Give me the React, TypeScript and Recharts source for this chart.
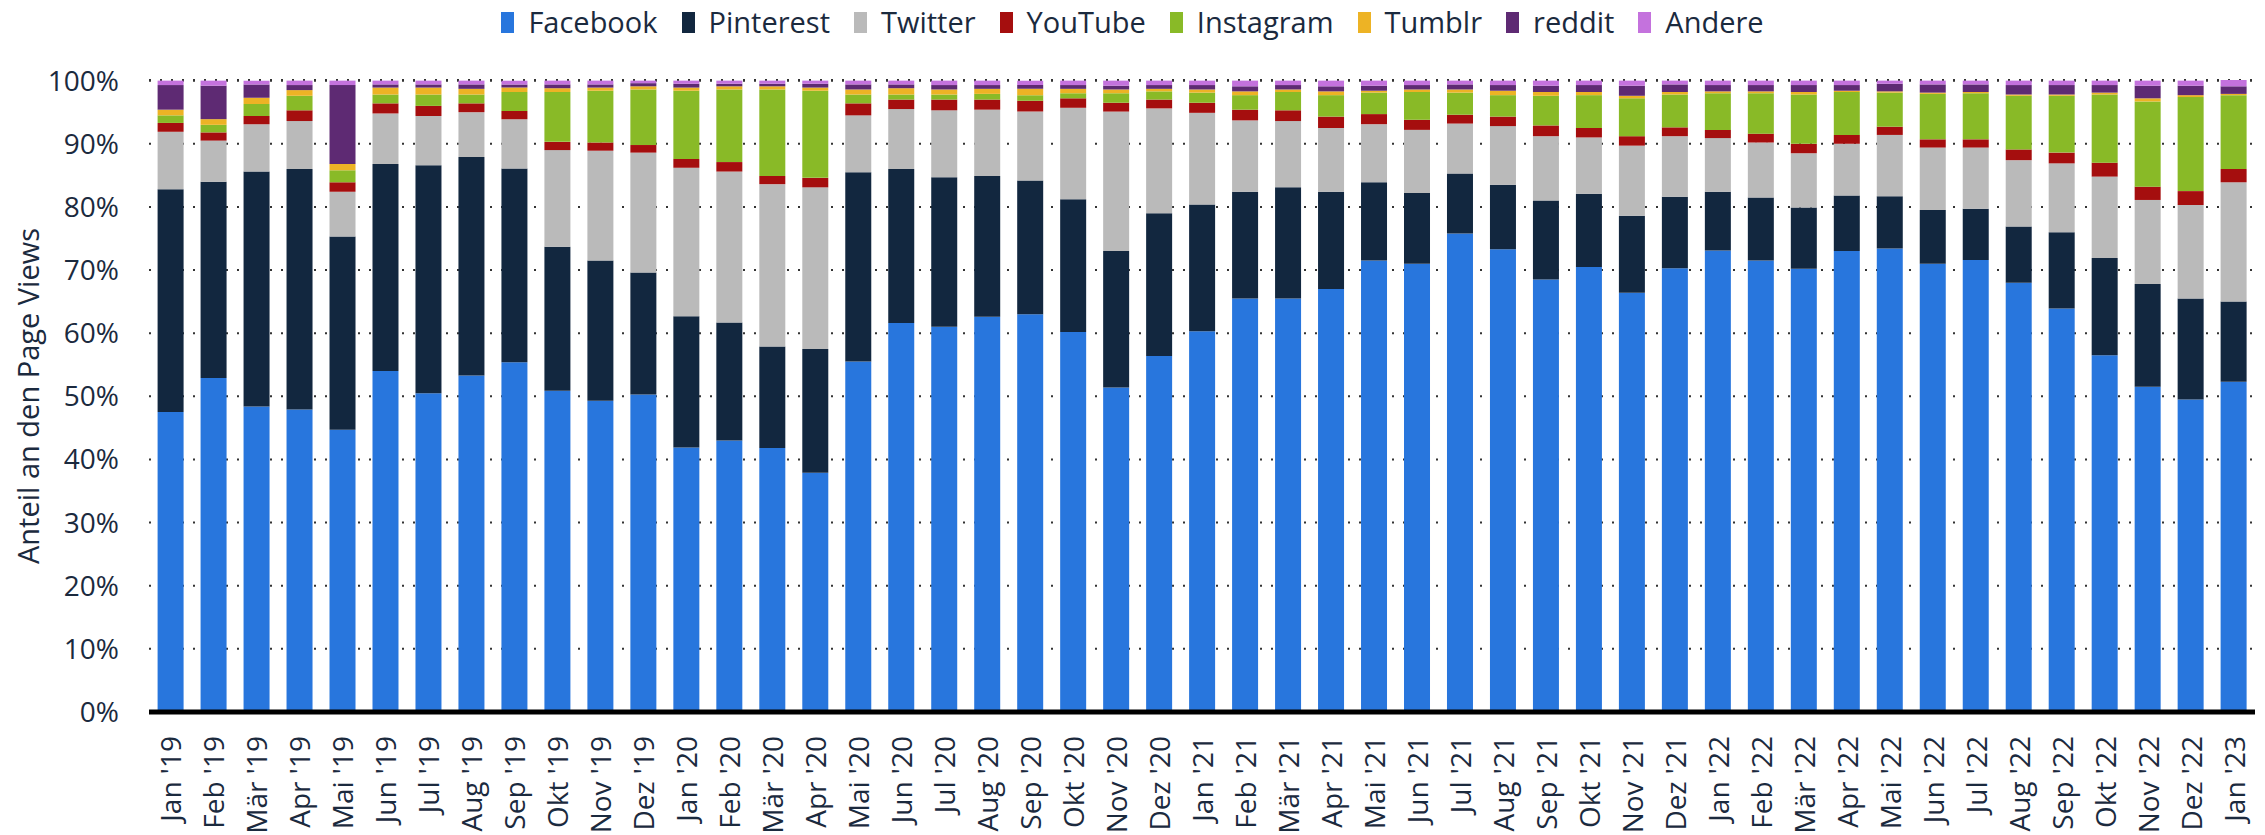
import React from 'react'
import { Bar, BarChart, CartesianGrid, Legend, XAxis, YAxis } from 'recharts'

const months = [
  "Jan '19", "Feb '19", "Mär '19", "Apr '19", "Mai '19", "Jun '19", "Jul '19", "Aug '19", "Sep '19", "Okt '19", "Nov '19", "Dez '19",
  "Jan '20", "Feb '20", "Mär '20", "Apr '20", "Mai '20", "Jun '20", "Jul '20", "Aug '20", "Sep '20", "Okt '20", "Nov '20", "Dez '20",
  "Jan '21", "Feb '21", "Mär '21", "Apr '21", "Mai '21", "Jun '21", "Jul '21", "Aug '21", "Sep '21", "Okt '21", "Nov '21", "Dez '21",
  "Jan '22", "Feb '22", "Mär '22", "Apr '22", "Mai '22", "Jun '22", "Jul '22", "Aug '22", "Sep '22", "Okt '22", "Nov '22", "Dez '22",
  "Jan '23",
]

const facebook = [
  47.5, 52.9, 48.4, 47.9, 44.7, 54.0, 50.5, 53.3, 55.4, 50.9, 49.3, 50.3,
  41.9, 43.0, 41.8, 37.9, 55.5, 61.6, 61.0, 62.6, 63.0, 60.2, 51.4, 56.4,
  60.3, 65.5, 65.5, 67.0, 71.5, 71.0, 75.8, 73.3, 68.5, 70.5, 66.4, 70.3,
  73.1, 71.5, 70.2, 73.0, 73.4, 71.0, 71.6, 68.0, 63.9, 56.5, 51.5, 49.5,
  52.3,
]
const pinterest = [
  35.3, 31.1, 37.2, 38.1, 30.6, 32.8, 36.1, 34.6, 30.7, 22.8, 22.2, 19.3,
  20.8, 18.7, 16.1, 19.6, 30.0, 24.4, 23.7, 22.3, 21.2, 21.0, 21.6, 22.6,
  20.1, 16.9, 17.6, 15.4, 12.4, 11.2, 9.5, 10.2, 12.5, 11.6, 12.2, 11.3,
  9.3, 10.0, 9.7, 8.8, 8.3, 8.5, 8.1, 8.9, 12.1, 15.4, 16.3, 16.0,
  12.7,
]
const twitter = [
  9.1, 6.5, 7.5, 7.6, 7.1, 8.0, 7.8, 7.1, 7.8, 15.3, 17.4, 19.0,
  23.5, 23.9, 25.7, 25.6, 9.0, 9.5, 10.6, 10.5, 10.9, 14.5, 22.1, 16.6,
  14.5, 11.3, 10.5, 10.1, 9.2, 10.0, 7.9, 9.3, 10.2, 8.9, 11.1, 9.6,
  8.5, 8.7, 8.6, 8.2, 9.7, 9.9, 9.7, 10.5, 10.9, 12.9, 13.3, 14.8,
  18.9,
]
const youtube = [
  1.4, 1.3, 1.3, 1.7, 1.5, 1.6, 1.6, 1.4, 1.3, 1.3, 1.3, 1.2,
  1.4, 1.5, 1.3, 1.5, 1.9, 1.5, 1.7, 1.6, 1.7, 1.5, 1.4, 1.4,
  1.6, 1.7, 1.7, 1.8, 1.6, 1.6, 1.4, 1.5, 1.7, 1.5, 1.5, 1.4,
  1.3, 1.4, 1.5, 1.4, 1.3, 1.3, 1.3, 1.7, 1.7, 2.2, 2.1, 2.2,
  2.1,
]
const instagram = [
  1.2, 1.2, 1.9, 2.3, 1.9, 1.4, 1.8, 1.4, 3.0, 7.9, 8.2, 8.8,
  10.8, 11.5, 13.7, 13.8, 1.4, 0.8, 0.8, 0.9, 0.9, 0.8, 1.5, 1.3,
  1.6, 2.3, 2.9, 3.4, 3.4, 4.4, 3.5, 3.4, 4.7, 5.2, 6.0, 5.2,
  5.8, 6.4, 7.8, 6.8, 5.4, 7.2, 7.3, 8.5, 9.0, 10.8, 13.5, 14.9,
  11.7,
]
const tumblr = [
  0.9, 0.9, 1.0, 0.9, 1.0, 1.1, 1.1, 0.9, 0.7, 0.6, 0.5, 0.5,
  0.5, 0.5, 0.5, 0.5, 0.8, 1.0, 0.8, 0.8, 1.0, 0.7, 0.6, 0.4,
  0.5, 0.6, 0.4, 0.6, 0.3, 0.4, 0.5, 0.7, 0.6, 0.5, 0.4, 0.4,
  0.3, 0.3, 0.4, 0.2, 0.2, 0.2, 0.2, 0.2, 0.2, 0.3, 0.5, 0.3,
  0.2,
]
const reddit = [
  3.9, 5.3, 2.1, 0.8, 12.5, 0.5, 0.5, 0.7, 0.5, 0.6, 0.5, 0.5,
  0.6, 0.4, 0.4, 0.6, 0.8, 0.6, 0.7, 0.6, 0.6, 0.6, 0.6, 0.6,
  0.7, 0.8, 0.7, 0.8, 0.8, 0.7, 0.8, 0.9, 1.0, 1.1, 1.6, 1.2,
  1.0, 1.0, 1.1, 0.9, 1.2, 1.3, 1.2, 1.5, 1.5, 1.2, 2.0, 1.5,
  1.2,
]
const andere = [
  0.7, 0.8, 0.6, 0.7, 0.7, 0.6, 0.6, 0.6, 0.6, 0.6, 0.6, 0.4,
  0.5, 0.5, 0.5, 0.5, 0.6, 0.6, 0.7, 0.7, 0.7, 0.7, 0.8, 0.7,
  0.7, 0.9, 0.7, 0.9, 0.8, 0.7, 0.6, 0.7, 0.8, 0.7, 0.8, 0.6,
  0.7, 0.7, 0.7, 0.7, 0.5, 0.6, 0.6, 0.7, 0.7, 0.7, 0.8, 0.8,
  1.0,
]

const yTicks = [0, 10, 20, 30, 40, 50, 60, 70, 80, 90, 100]

const series = [
  { name: 'Facebook', values: facebook, color: '#2876dd' },
  { name: 'Pinterest', values: pinterest, color: '#12273f' },
  { name: 'Twitter', values: twitter, color: '#bababa' },
  { name: 'YouTube', values: youtube, color: '#a50e0e' },
  { name: 'Instagram', values: instagram, color: '#89ba27' },
  { name: 'Tumblr', values: tumblr, color: '#edb325' },
  { name: 'reddit', values: reddit, color: '#5e2a73' },
  { name: 'Andere', values: andere, color: '#c472dd' },
]

const data = months.map((month, i) => {
  const row: Record<string, string | number> = { month }
  series.forEach((s) => { row[s.name] = s.values[i] })
  return row
})

const FONT = '"Open Sans", sans-serif'
const TEXT = '#1b2a3e'

const renderLegend = () => (
  <div style={{ height: 80, boxSizing: 'border-box', paddingTop: 4, display: 'flex', justifyContent: 'center', alignItems: 'flex-start', gap: 24, fontFamily: FONT, fontSize: 29, lineHeight: '36px', color: TEXT }}>
    {series.map((s) => (
      <div key={s.name} style={{ display: 'flex', alignItems: 'center' }}>
        <span style={{ display: 'inline-block', width: 13, height: 21, background: s.color, marginRight: 14 }} />
        {s.name}
      </div>
    ))}
  </div>
)

const XTick = ({ x, y, payload }: any) => (
  <text transform={`translate(${x}, ${y + 22}) rotate(-90)`} textAnchor="end" dominantBaseline="central" fontFamily={FONT} fontSize={28} fill={TEXT}>
    {payload.value}
  </text>
)

const YTitle = (props: any) => {
  const vb = props.viewBox || {}
  const cy = (vb.y ?? 80) + (vb.height ?? 632) / 2
  return (
    <text x={27} y={cy} transform={`rotate(-90, 27, ${cy})`} textAnchor="middle" dominantBaseline="central" fontFamily={FONT} fontSize={29} fill={TEXT}>
      Anteil an den Page Views
    </text>
  )
}

const App = () => {
  return (
    <div style={{ width: 2265, height: 835, background: '#fff' }}>
      <style>{'body{margin:0}'}</style>
      <BarChart width={2265} height={835} data={data} margin={{ top: 0, right: 10, left: 0, bottom: 0 }} barCategoryGap="20%">
        <CartesianGrid vertical={false} stroke="#333" strokeWidth={2} strokeDasharray="2 9" />
        <XAxis dataKey="month" interval={0} height={123} tickSize={0} tickLine={false} axisLine={{ stroke: '#000', strokeWidth: 5 }} tick={<XTick />} />
        <YAxis domain={[0, 100]} ticks={yTicks} width={149} tickSize={0} tickMargin={30} axisLine={false} tickLine={false}
          tickFormatter={(v) => `${v}%`} tick={{ fontFamily: FONT, fontSize: 28, fill: TEXT }} label={<YTitle />} />
        <Legend verticalAlign="top" content={renderLegend} wrapperStyle={{ left: 0, width: 2265 }} />
        {series.map((s) => (
          <Bar key={s.name} dataKey={s.name} stackId="a" fill={s.color} isAnimationActive={false} />
        ))}
      </BarChart>
    </div>
  )
}

export default App
